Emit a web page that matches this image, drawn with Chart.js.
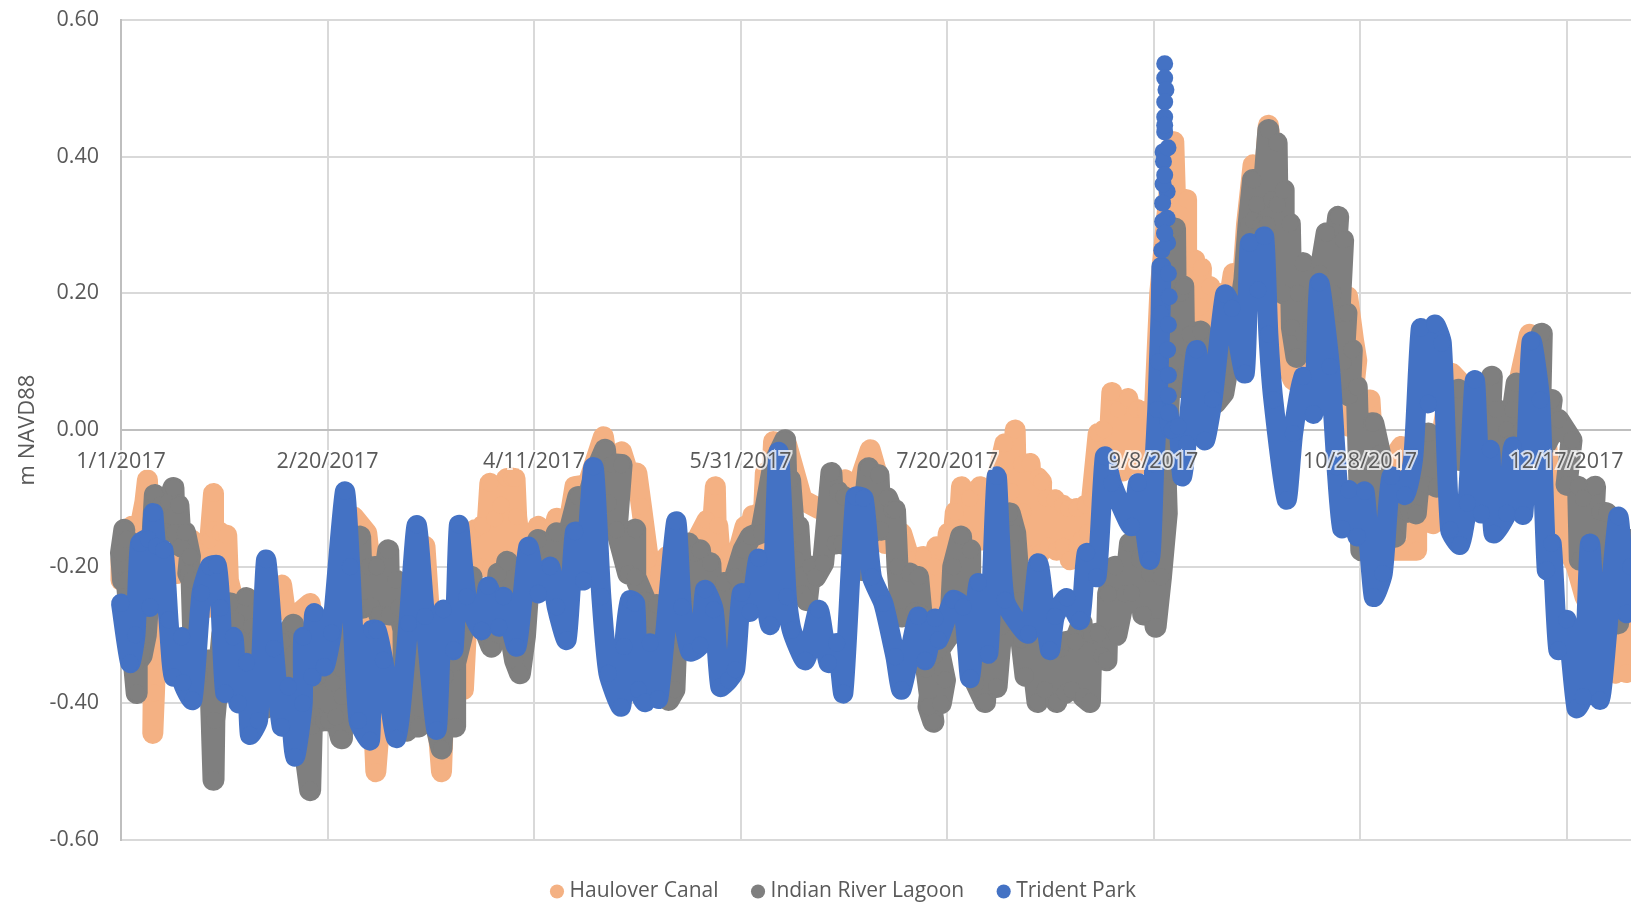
<!DOCTYPE html>
<html lang="en">

<head>
    <meta charset="UTF-8" />
    <title>m NAVD88</title>
    <script src="https://cdn.jsdelivr.net/npm/chart.js"></script>
    <style>
        html, body { margin: 0; padding: 0; background: #fff; }
        #wrap { width: 1631px; height: 908px; }
    </style>
</head>

<body>
    <div id="wrap"><canvas id="waterLevel"></canvas></div>

    <script>
        const seriesNames = ['Haulover Canal', 'Indian River Lagoon', 'Trident Park'];
        const dateLabels = ['1/1/2017', '2/20/2017', '4/11/2017', '5/31/2017', '7/20/2017', '9/8/2017', '10/28/2017', '12/17/2017'];

        // days since 1/1/2017 and metres
        const haulDays = [0, 0, 2.6, 3.4, 5.8, 6.4, 6.6, 8.2, 8.3, 7.8, 7.7, 8.1, 8.6, 9.4, 11.5, 13.5, 17.1, 18.7, 19.5, 20.7, 21, 21.5, 22.4, 22.4, 23, 24, 24.5, 25.6, 26, 26.8, 27.2, 32, 38.9, 39.7, 42.1, 45.8, 47, 51, 54.2, 54.2, 56.3, 59.5, 60.7, 61, 61.7, 63, 63.5, 66, 70, 73.6, 75, 77.6, 78, 79, 82.9, 82.9, 84, 85.7, 86.5, 87.5, 88, 89.3, 89.5, 90.5, 91, 92, 93.4, 93.5, 94.5, 95, 95.4, 95.8, 97, 101, 103, 105.5, 107, 109.9, 113, 116.8, 118, 121.2, 122.8, 124.9, 126, 127.7, 128.5, 130.1, 130.5, 132.2, 135, 139, 141.9, 142.5, 143.9, 144.3, 144.5, 145.5, 147.1, 147, 148.7, 151.1, 151.5, 153, 153, 154.4, 155, 156, 156.5, 158, 161.2, 164.9, 168.9, 172, 175.3, 178, 181.4, 183, 185, 189, 191, 194.3, 195, 196.7, 197, 197.5, 198.5, 200.3, 200.5, 202, 202.5, 203.5, 204.5, 205.5, 206.5, 208, 208.4, 211, 214, 215.5, 216.5, 216.9, 218, 218.5, 220.1, 221.3, 222, 222.9, 222.5, 224, 224.5, 226.1, 226.5, 228, 228.2, 229.4, 229.8, 231.4, 231.5, 232.5, 233.5, 234, 235, 236.6, 237, 238, 238.5, 239.9, 240.5, 241.5, 242.5, 243.8, 244.5, 246, 246.5, 248, 248.5, 250, 251.5, 254.9, 255.5, 258, 258, 260, 259.5, 261.6, 261.3, 263.6, 263, 265.7, 265, 267, 269.3, 268.5, 271, 271, 272.5, 274.1, 274.5, 277.8, 281, 282, 283.8, 285, 286, 289.5, 290, 292, 297, 298.4, 299.2, 297.5, 302.4, 304, 304.5, 310, 307.2, 313.7, 313.7, 317.7, 317.7, 322.2, 324.2, 324.2, 329, 333.9, 337, 341, 344, 346, 348.4, 350, 352.4, 354.5, 358.9, 360, 361.7, 363, 364.5, 365.5];
        const haulLevels = [-.22, -.19, -.141, -.18, -.105, -.073, -.107, -.3, -.332, -.385, -.444, -.385, -.307, -.254, -.19, -.21, -.161, -.19, -.25, -.205, -.26, -.161, -.093, -.146, -.2, -.15, -.22, -.154, -.22, -.239, -.273, -.28, -.227, -.263, -.273, -.254, -.3, -.331, -.278, -.2, -.127, -.151, -.215, -.4, -.5, -.4, -.293, -.35, -.3, -.17, -.3, -.5, -.43, -.38, -.3, -.38, -.25, -.146, -.2, -.14, -.2, -.078, -.2, -.13, -.2, -.11, -.071, -.19, -.07, -.19, -.071, -.127, -.19, -.141, -.2, -.129, -.19, -.083, -.08, -.01, -.06, -.032, -.063, -.063, -.112, -.19, -.24, -.21, -.25, -.185, -.2, -.166, -.132, -.2, -.083, -.2, -.14, -.22, -.18, -.22, -.195, -.141, -.175, -.125, -.19, -.122, -.2, -.063, -.2, -.017, -.022, -.102, -.115, -.12, -.073, -.09, -.029, -.063, -.166, -.151, -.19, -.185, -.25, -.254, -.2, -.171, -.26, -.151, -.23, -.12, -.18, -.083, -.15, -.1, -.16, -.083, -.161, -.1, -.02, -.09, 0, -.122, -.05, -.12, -.049, -.18, -.07, -.076, -.18, -.1, -.17, -.102, -.176, -.11, -.17, -.115, -.19, -.115, -.17, -.16, -.11, -.15, -.102, -.005, -.1, 0, -.1, .055, -.06, .03, -.06, .046, -.05, .03, -.05, .027, -.05, 0, .2, .422, .3, .337, .2, .249, .13, .237, .18, .21, .1, .2, .1, .14, .229, .15, .232, .17, .3, .388, .2, .446, .26, .1, .073, .09, .06, .034, .1, .1, .195, .132, .102, .005, .044, -.112, -.073, -.024, -.176, -.176, -.128, -.137, -.088, .083, .07, -.04, -.02, -.068, .03, .14, .05, -.073, -.102, -.171, -.2, -.245, -.2, -.28, -.356, -.29, -.355, -.25];

        const lagoonDays = [.8, 0, .5, 1.4, 1.4, 2.5, 3.8, 3.8, 5, 6, 6.6, 7.2, 8.2, 8.8, 9.5, 10.7, 11.5, 12.7, 13, 13.9, 14.5, 15.5, 16.7, 16.3, 17.1, 17.5, 19, 21.5, 22.4, 22.6, 24.5, 26.4, 26.5, 28, 29, 30.4, 31.5, 32, 33, 34.9, 36, 38, 39, 41.7, 43, 45.8, 46.2, 46.6, 47.5, 48, 49, 50, 50.2, 51.3, 52, 53.3, 53.5, 54.2, 55, 57.9, 58.5, 60, 60.7,
            61.9, 62.5, 64.7, 65, 66.5, 67.2, 68.4, 68.5, 69.2, 70, 71, 72, 73, 74.4, 75, 77.6, 78.5, 80.9, 80.9, 83.3, 84.9, 85, 87, 88, 89.7, 91.4, 91.5, 93.5, 93, 95.4, 96.6, 97.8, 99, 101, 102, 103.5, 105.5, 106.7, 108.5, 110.7, 111, 113, 115, 117.2, 118, 119, 121.2, 120, 122.8,
            124.5, 124.5, 126.9, 126.9, 129.7, 130, 131, 132.6, 134, 134.5, 136, 137.4, 138.6, 139, 140.2, 141, 142.7, 143, 144.7, 145.9, 146.3, 148.7, 150.7, 152.5, 155, 158, 160.8, 161.5, 162, 163.5, 164, 165, 166.1, 167, 168.1, 170, 172, 172.9, 173.5, 174.5, 175, 176.5, 177, 179.4, 179.5, 181, 181.8, 183.4, 184, 185.5, 186.6,
            187.4, 188, 189, 191, 192, 193, 193.8, 195, 196.7, 195.5, 197, 198.5, 199.5, 198, 200.7, 201.5, 203.4, 204, 205.6, 205.6, 207, 209.2, 210, 212, 213.2, 215.2, 216.5, 217.7, 218, 219, 220, 221.9, 222.5, 223.7, 225, 226.5, 227.5, 228.6, 229, 230.2, 231, 232.6, 233, 234.6, 235, 236.6, 237.5, 238.6, 239, 240.7, 241, 243, 244.3, 244.7, 246.5, 247.5, 249, 250.5, 251.8,
            253.2, 253, 254, 255.2, 255.5, 256.5, 257.2, 257.5, 258.4, 258.8, 261.4, 262, 264, 265, 266.9, 268, 270.1, 270.9, 272, 273, 274.1, 274.1, 275, 276, 277.8, 277.5, 278.6, 279.8, 280, 281.4, 281.5, 283, 283.5, 284.6, 285, 286.2, 286.2, 288, 290.3, 291.9, 292, 294.7, 293.5, 295.9, 295, 296.7, 296, 298, 297.5, 299.2, 300.3, 301.5, 302.8,
            303.2, 304.8, 304.8, 306, 308.5, 309, 311, 311.7, 313.5, 315.3, 316, 316.5, 318.5, 320, 323.8, 324, 324.2, 326, 331.9, 331, 333, 333.9, 335.5, 337, 337.9, 336.5, 339, 341, 344, 343.5, 346.4, 345, 348, 351.2, 350, 352.8, 353.2, 354, 356.9, 356, 358, 359.7, 359, 361, 362.5, 362, 364.5, 365.3];
        const lagoonLevels = [-.146, -.18, -.22, -.16, -.22, -.3, -.385, -.34, -.33, -.3, -.25, -.2, -.095, -.17, -.11, -.149, -.105, -.085, -.15, -.11, -.17, -.15, -.185, -.21, -.22, -.3, -.36, -.337, -.512, -.425, -.3, -.254, -.32, -.28, -.33, -.246, -.288, -.34, -.3, -.407, -.34, -.36, -.31, -.285, -.4, -.527, -.434, -.36, -.42, -.36, -.425, -.36, -.425, -.37, -.42, -.451, -.39, -.317, -.28, -.156, -.26, -.2, -.258,
            -.2, -.27, -.176, -.27, -.22, -.26, -.293, -.38, -.44, -.3, -.43, -.434, -.3, -.273, -.4, -.466, -.36, -.434, -.341, -.283, -.215, -.28, -.25, -.29, -.317, -.21, -.3, -.193, -.25, -.337, -.356, -.302, -.2, -.161, -.23, -.19, -.151, -.224, -.15, -.098, -.17, -.1, -.06, -.029, -.107, -.05, -.051, -.146, -.21,
            -.146, -.215, -.249, -.3, -.256, -.35, -.3, -.395, -.38, -.3, -.25, -.166, -.263, -.18, -.176, -.27, -.195, -.25, -.312, -.224, -.312, -.215, -.176, -.156, -.15, -.05, -.015, -.17, -.073, -.19, -.141, -.24, -.249, -.2, -.215, -.195, -.063, -.166, -.09, -.166, -.098, -.165, -.146, -.205, -.14, -.056, -.15, -.066, -.146, -.1, -.117,
            -.117, -.2, -.273, -.21, -.265, -.215, -.268, -.35, -.427, -.405, -.33, -.4, -.366, -.322, -.298, -.2, -.156, -.3, -.176, -.29, -.37, -.398, -.3, -.376, -.288, -.122, -.151, -.249, -.307, -.36, -.3, -.398, -.3, -.38, -.31, -.398, -.32, -.385, -.31, -.38, -.31, -.283, -.39, -.398, -.3, -.298, -.33, -.337, -.24, -.2, -.3, -.24, -.166, -.239, -.19, -.27, -.21, -.288, -.215,
            -.122, -.083, .1, .295, .1, .2, .21, .08, .059, .14, .144, .05, .1, .04, .054, .093, .19, .176, .22, .3, .366, .307, .33, .3, .439, .3, .337, .42, .33, .351, .2, .302, .15, .107, .2, .244, .141, .15, .229, .288, .18, .312, .2, .278, .17, .171, .1, .117, .05, .063, -.176, -.05, .01,
            .01, -.034, -.102, -.13, -.156, -.1, -.12, -.117, -.122, -.005, -.08, -.005, -.083, -.04, .059, -.04, -.044, 0, .078, -.05, .03, -.063, 0, .03, .068, -.02, 0, .06, .141, 0, .044, -.02, .015, -.015, -.08, -.083, -.19, -.1, -.083, -.19, -.12, -.122, -.2, -.16, -.283, -.17, -.2, -.161];

        const tridentDays = [0, 2.2, 3.5, 4.6, 6.6, 7, 7.8, 8.6, 10.3, 11.5, 12.7, 14.7, 15, 17.3, 19.5, 21.5, 23.2, 24.1, 25.2, 27.2, 28.4, 30.4, 31.2, 33.2, 35.1, 37, 38.9, 40.5, 42.1, 44, 44.1, 46.2, 46.8, 49.2, 51, 54.2, 55.5, 57.5, 60.3, 60.7, 61.9, 63.5, 66.7, 69.6, 71.6, 73.6, 76.4, 78, 80.5, 81.8, 83.7, 87.3, 88.9, 91.5, 92.6, 95.8, 98.6, 101, 103.9, 105.5, 107.9, 109.9, 112, 114.4, 116.3, 118, 121.1, 121.8, 123.2, 124.5, 125.3, 126.9, 128.1, 130.1, 134.4, 135.8, 137.8, 140.2, 141.4, 143.5, 145.1, 147.1, 148.7, 150.3, 152.3, 154.4, 157.2, 159.2, 161.2, 162.4, 165.7, 168.9, 171.3, 173.3, 174.9, 177.8, 179.8, 181.8, 184.6, 187.5, 189, 193, 194.7, 197.1, 197.9, 201.5, 203.9, 205.6, 207.6, 210, 212, 214, 219.7, 222.1, 224.9, 226.1, 229, 232.2, 233.8, 236.2, 238.2, 239.9, 244.7, 246.3, 249.1, 250.2, 250.9, 251.3, 251.7, 251.9,
            252, 252.7, 252.7, 252.7, 252.3, 253, 252.7, 253.3, 252.7, 252.3, 253.3, 252.2, 252.2, 253.4, 252.4, 253.5, 252.7, 252.7, 252.7, 252.7,
            253.6, 253.8, 253.6, 253.4, 253.6, 253.6, 253.6, 254.5, 256, 256.9, 258, 260.4, 262.4, 264.3, 267.3, 269, 272.1, 273.3, 275.3, 276.8, 277.8, 279, 282.2, 283.8, 286.2, 288.7, 290.1, 292.7, 294.3, 295.6, 297.3, 299.4, 301.1, 303.3, 305.5, 307.6, 310.9, 312.9, 314.7, 316.5, 318.1, 319.8, 321.8, 324.2, 326, 327.8, 329.4, 331.5, 332.3, 335.5, 337.1, 339.5, 341.5, 343.6, 345.2, 346.4, 348, 350, 352.4, 354, 355.7, 358.1, 362.5, 364.5, 365.5];
        const tridentLevels = [-.254, -.341, -.3, -.166, -.16, -.259, -.122, -.17, -.176, -.278, -.361, -.303, -.37, -.395, -.239, -.2, -.198, -.26, -.385, -.303, -.4, -.341, -.446, -.425, -.19, -.32, -.434, -.376, -.478, -.4, -.303, -.361, -.268, -.346, -.297, -.09, -.2, -.425, -.454, -.293, -.293, -.337, -.451, -.283, -.139, -.273, -.439, -.263, -.322, -.139, -.244, -.293, -.229, -.288, -.244, -.317, -.171, -.239, -.2, -.259, -.307, -.149, -.22, -.054, -.244, -.356, -.405, -.317, -.249, -.254, -.38, -.398, -.312, -.393, -.134, -.259, -.324, -.315, -.234, -.263, -.376, -.366, -.351, -.239, -.266, -.188, -.285, -.032, -.244, -.293, -.337, -.263, -.341, -.312, -.385, -.098, -.1, -.215, -.254, -.332, -.38, -.273, -.337, -.276, -.307, -.249, -.259, -.363, -.224, -.327, -.068, -.249, -.298, -.195, -.322, -.273, -.246, -.278, -.18, -.215, -.039, -.078, -.141, -.078, -.19, -.05, .03, .1, .17, .239,
            .263, .288, .536, .515, .407, .498, .48, .349, .458, .36, .31, .305, .332, .274, .393, .413, .436, .446, .373, .288,
            .229, .195, .154, .117, .08, .05, .025, 0, .005, -.068, -.02, .117, -.015, .045, .198, .178, .083, .273, .205, .283, .14, .044, -.102, -.005, .078, .024, .215, .093, -.054, -.144, -.088, -.156, -.09, -.244, -.21, -.068, -.095, -.039, .149, .039, .154, .127, -.146, -.168, -.107, .073, -.122, -.029, -.151, -.122, -.024, -.124, .129, .044, -.205, -.166, -.322, -.278, -.407, -.39, -.166, -.395, -.127, -.268, -.2];

        const yTicks = [-0.6, -0.4, -0.2, 0, 0.2, 0.4, 0.6];

        function toPoints(days, levels) {
            return days.map((d, i) => ({ x: d, y: levels[i] }));
        }

        function makeDataset(name, days, levels, color, order, width) {
            return {
                label: name,
                data: toPoints(days, levels),
                showLine: true,
                backgroundColor: color,
                borderColor: color,
                borderWidth: width,
                borderJoinStyle: 'round',
                borderCapStyle: 'round',
                pointBackgroundColor: color,
                pointBorderWidth: 0,
                pointRadius: 8.5,
                pointHoverRadius: 8.5,
                tension: 0,
                clip: false,
                order: order
            };
        }

        const tridentSet = makeDataset(seriesNames[2], tridentDays, tridentLevels, '#4472c4', 1, 20);
        tridentSet.tension = 0.2;
        // the Sept. spike shows as loose dots, no line between them
        tridentSet.segment = {
            borderColor: ctx => (ctx.p0.parsed.x >= 251.9 && ctx.p0.parsed.y > 0.02 && ctx.p1.parsed.x <= 254) ? 'transparent' : undefined
        };

        // legend sits a bit right of the chart centre and lower
        const moveLegend = {
            id: 'moveLegend',
            afterLayout(chart) {
                chart.legend.left += 30;
                chart.legend.right += 30;
                chart.legend.top += 3.5;
                chart.legend.bottom += 3.5;
            }
        };

        // no room kept for tick labels that stick out of the plot
        function dropScalePadding(scale) {
            scale.paddingTop = 0;
            scale.paddingBottom = 0;
            scale.paddingLeft = 0;
            scale.paddingRight = 0;
        }

        const CHART = new Chart(document.getElementById('waterLevel'), {
            type: 'scatter',
            data: {
                datasets: [
                    makeDataset(seriesNames[0], haulDays, haulLevels, '#f4b183', 3, 21),
                    makeDataset(seriesNames[1], lagoonDays, lagoonLevels, '#7f7f7f', 2, 22),
                    tridentSet
                ]
            },
            plugins: [moveLegend],
            options: {
                responsive: true,
                maintainAspectRatio: false,
                animation: false,
                layout: { autoPadding: false, padding: { top: 20, right: 0, bottom: 0, left: 0 } },
                scales: {
                    x: {
                        type: 'linear',
                        position: { y: 0 },
                        min: 0,
                        max: 365.6,
                        afterFit: dropScalePadding,
                        grid: { color: '#d9d9d9', lineWidth: 2, drawTicks: false },
                        border: { color: '#bfbfbf', width: 2 },
                        ticks: {
                            stepSize: 50,
                            includeBounds: false,
                            autoSkip: false,
                            maxRotation: 0,
                            padding: 19,
                            z: 1,
                            color: '#595959',
                            font: { family: '"Open Sans"', size: 21.5 },
                            textStrokeColor: 'rgba(255,255,255,0.75)',
                            textStrokeWidth: 4,
                            callback: value => dateLabels[value / 50]
                        }
                    },
                    y: {
                        min: -0.6,
                        max: 0.6,
                        afterFit: scale => { scale.width = 121; dropScalePadding(scale); },
                        afterBuildTicks: scale => { scale.ticks = yTicks.map(v => ({ value: v })); },
                        grid: { color: '#d9d9d9', lineWidth: 2, drawTicks: false },
                        border: { color: '#bfbfbf', width: 2 },
                        ticks: {
                            padding: 22,
                            color: '#595959',
                            font: { family: '"Open Sans"', size: 21.5 },
                            callback: value => value.toFixed(2)
                        },
                        title: {
                            display: true,
                            text: 'm NAVD88',
                            color: '#595959',
                            font: { family: '"Open Sans"', size: 22 },
                            padding: { top: 15, bottom: 0 }
                        }
                    }
                },
                plugins: {
                    tooltip: { enabled: false },
                    legend: {
                        position: 'bottom',
                        maxHeight: 68,
                        labels: {
                            usePointStyle: true,
                            boxWidth: 4,
                            boxHeight: 10,
                            padding: 37.5,
                            color: '#595959',
                            font: { family: '"Open Sans"', size: 21 },
                            sort: (a, b) => a.datasetIndex - b.datasetIndex
                        }
                    }
                }
            }
        });
    </script>
</body>

</html>
